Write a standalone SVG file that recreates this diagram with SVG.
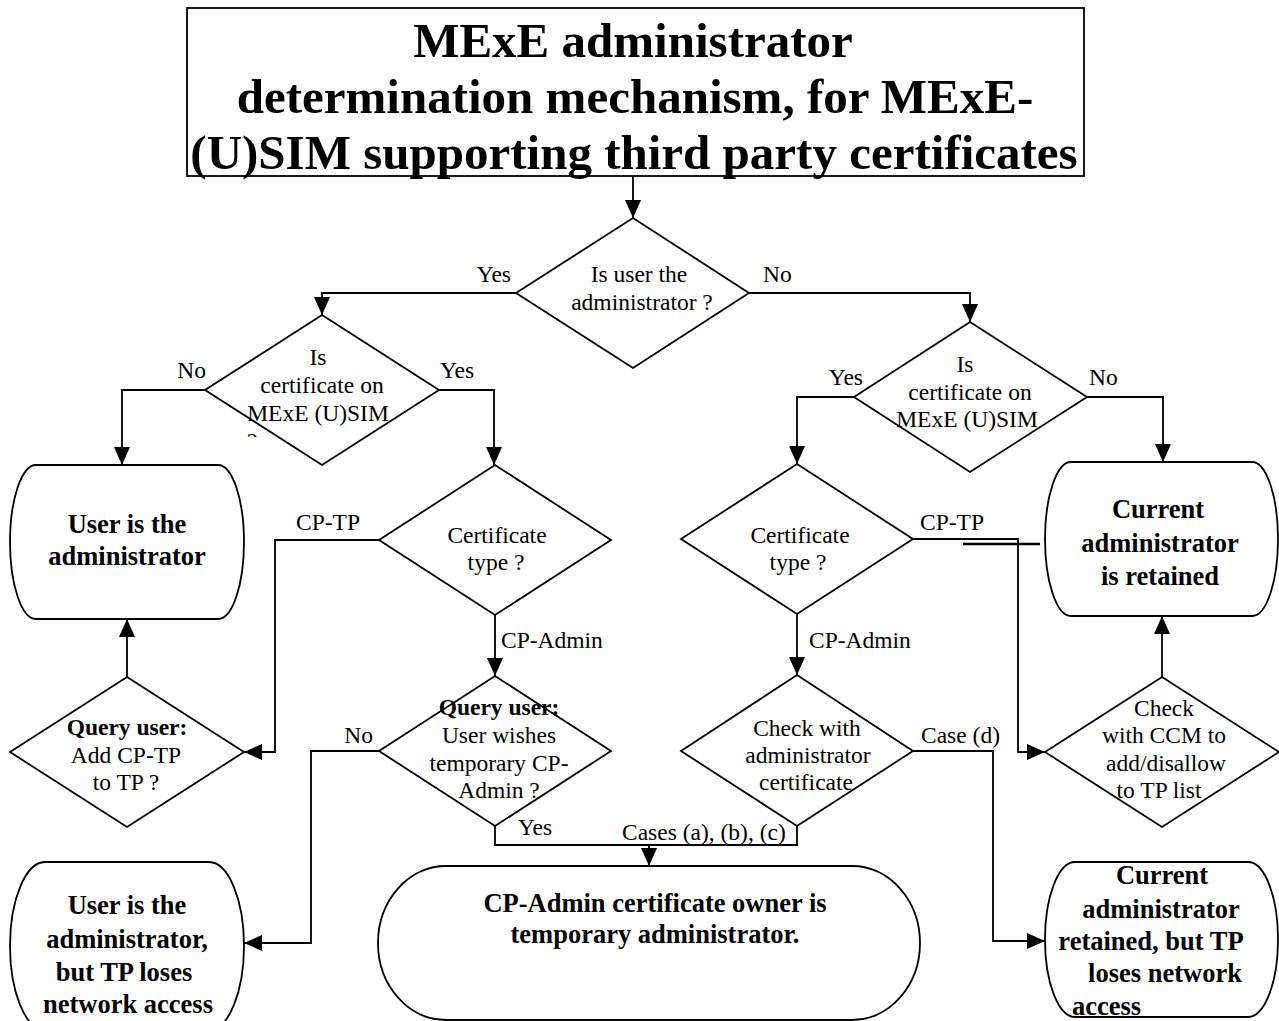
<svg xmlns="http://www.w3.org/2000/svg" width="1279" height="1021" viewBox="0 0 1279 1021">
<style>
text { font-family: "Liberation Serif", "Times New Roman", serif; font-size: 23.5px; fill: #000; }
.m { text-anchor: middle; }
.e { text-anchor: end; }
.b { font-weight: bold; font-size: 26.5px; }
.qb { font-weight: bold; }
.t { font-weight: bold; font-size: 49px; text-anchor: middle; }
.s { fill: #fff; stroke: #000; stroke-width: 1.8; }
.c path { fill: none; stroke: #000; stroke-width: 1.8; }
.c path.a { marker-end: url(#arr); }
</style>
<defs>
<marker id="arr" markerUnits="userSpaceOnUse" markerWidth="18" markerHeight="16" refX="18" refY="8" orient="auto">
<path d="M0,0 L18,8 L0,16 Z" fill="#000"/>
</marker>
<clipPath id="qclip"><rect x="240" y="420" width="40" height="17"/></clipPath>
</defs>
<rect width="1279" height="1021" fill="#fff"/>

<g id="title">
<rect class="s" x="187" y="8" width="897" height="168"/>
<text class="t" x="633" y="57">MExE administrator</text>
<text class="t" x="635" y="113">determination mechanism, for MExE-</text>
<text class="t" x="634" y="169">(U)SIM supporting third party certificates</text>
</g>

<g id="d1">
<polygon class="s" points="633,218 749,293 633,368 516,293"/>
<text class="m" x="639" y="282">Is user the</text>
<text class="m" x="642" y="310">administrator ?</text>
</g>

<g id="d2">
<polygon class="s" points="322,315 439,390 322,465 205,390"/>
<text class="m" x="318" y="365">Is</text>
<text class="m" x="322" y="393">certificate on</text>
<text class="m" x="318" y="421">MExE (U)SIM</text>
<text x="247" y="449" clip-path="url(#qclip)">?</text>
</g>

<g id="d3">
<polygon class="s" points="970,322 1087,397 970,472 854,397"/>
<text class="m" x="965" y="372">Is</text>
<text class="m" x="970" y="400">certificate on</text>
<text class="m" x="967" y="427">MExE (U)SIM</text>
</g>

<g id="boxA">
<rect class="s" x="10" y="465" width="234" height="154" rx="26" ry="77"/>
<text class="m b" x="127" y="533">User is the</text>
<text class="m b" x="127" y="565">administrator</text>
</g>

<g id="d5">
<polygon class="s" points="495,465 611,540 495,615 379,540"/>
<text class="m" x="497" y="543">Certificate</text>
<text class="m" x="496" y="570">type ?</text>
</g>

<g id="d4">
<polygon class="s" points="797,464 913,539 797,614 681,539"/>
<text class="m" x="800" y="543">Certificate</text>
<text class="m" x="798" y="570">type ?</text>
</g>

<g id="boxB">
<rect class="s" x="1045" y="462" width="233" height="154" rx="26" ry="77"/>
<text class="m b" x="1158" y="518">Current</text>
<text class="m b" x="1160" y="552">administrator</text>
<text class="m b" x="1160" y="585">is retained</text>
</g>

<g id="d6">
<polygon class="s" points="127,677 244,752 127,827 10,752"/>
<text class="m qb" x="127" y="735">Query user:</text>
<text class="m" x="126" y="763">Add CP-TP</text>
<text class="m" x="126" y="790">to TP ?</text>
</g>

<g id="d7">
<polygon class="s" points="495,676 611,751 495,826 379,751"/>
<text class="m qb" x="499" y="715">Query user:</text>
<text class="m" x="499" y="743">User wishes</text>
<text class="m" x="499" y="771">temporary CP-</text>
<text class="m" x="499" y="798">Admin ?</text>
</g>

<g id="d9">
<polygon class="s" points="797,675 913,751 797,826 681,751"/>
<text class="m" x="807" y="736">Check with</text>
<text class="m" x="808" y="763">administrator</text>
<text class="m" x="806" y="790">certificate</text>
</g>

<g id="d8">
<polygon class="s" points="1162,677 1279,752 1162,827 1045,752"/>
<text class="m" x="1164" y="716">Check</text>
<text class="m" x="1164" y="743">with CCM to</text>
<text class="m" x="1166" y="771">add/disallow</text>
<text class="m" x="1159" y="798">to TP list</text>
</g>

<g id="boxC">
<rect class="s" x="10" y="862" width="234" height="168" rx="35" ry="84"/>
<text class="m b" x="127" y="914">User is the</text>
<text class="m b" x="127" y="948">administrator,</text>
<text class="m b" x="124" y="981">but TP loses</text>
<text class="m b" x="128" y="1013">network access</text>
</g>

<g id="boxE">
<rect class="s" x="378" y="866" width="542" height="154" rx="68" ry="77"/>
<text class="m b" x="655" y="912">CP-Admin certificate owner is</text>
<text class="m b" x="655" y="943">temporary administrator.</text>
</g>

<g id="boxD">
<rect class="s" x="1045" y="862" width="233" height="155" rx="30" ry="77"/>
<text class="m b" x="1162" y="884">Current</text>
<text class="m b" x="1161" y="918">administrator</text>
<text class="m b" x="1151" y="950">retained, but TP</text>
<text class="m b" x="1165" y="982">loses network</text>
<text class="b" x="1072" y="1015">access</text>
</g>

<g class="c" id="connectors">
<path class="a" d="M633,176 V218"/>
<path class="a" d="M516,293 H322 V315"/>
<path class="a" d="M749,293 H970 V322"/>
<path class="a" d="M205,390 H122 V465"/>
<path class="a" d="M439,390 H494 V465"/>
<path class="a" d="M854,397 H797 V464"/>
<path class="a" d="M1087,397 H1163 V462"/>
<path class="a" d="M379,540 H275 V752 H244"/>
<path class="a" d="M127,677 V619"/>
<path class="a" d="M495,615 V676"/>
<path class="a" d="M379,751 H311 V943 H244"/>
<path d="M495,826 V845 H797 V826"/>
<path class="a" d="M649,845 V866"/>
<path class="a" d="M797,614 V675"/>
<path class="a" d="M913,539 H1018 V752 H1045"/>
<path class="a" d="M913,751 H993 V941 H1045"/>
<path class="a" d="M1162,677 V616"/>
<path d="M963,544 H1040" style="stroke-width:2.5"/>
</g>

<g id="labels">
<text class="e" x="511" y="282">Yes</text>
<text x="763" y="282">No</text>
<text class="e" x="206" y="378">No</text>
<text x="440" y="378">Yes</text>
<text class="e" x="863" y="385">Yes</text>
<text x="1089" y="385">No</text>
<text class="m" x="328" y="530">CP-TP</text>
<text class="m" x="952" y="530">CP-TP</text>
<text x="501" y="648">CP-Admin</text>
<text x="809" y="648">CP-Admin</text>
<text class="e" x="373" y="743">No</text>
<text x="921" y="743">Case (d)</text>
<text x="518" y="835">Yes</text>
<text x="622" y="840">Cases (a), (b), (c)</text>
</g>
</svg>
